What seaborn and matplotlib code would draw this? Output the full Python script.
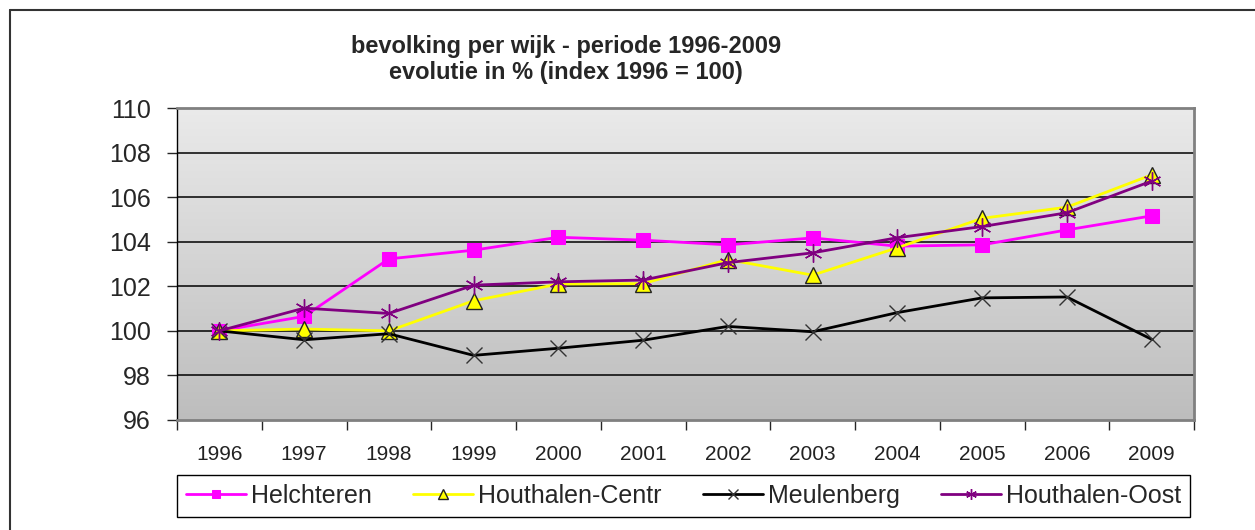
import numpy as np
import pandas as pd
import matplotlib
matplotlib.use("Agg")
import matplotlib.pyplot as plt
from matplotlib.lines import Line2D
import seaborn as sns

sns.set_style("white")
plt.rcParams['font.family'] = ['Liberation Sans', 'DejaVu Sans']

jaren = ["1996", "1997", "1998", "1999", "2000", "2001", "2002", "2003", "2004", "2005", "2006", "2009"]
helchteren = [100.0, 100.65, 103.23, 103.62, 104.2, 104.07, 103.86, 104.17, 103.8, 103.86, 104.53, 105.16]
houthalen_centr = [100.0, 100.08, 100.0, 101.35, 102.1, 102.12, 103.2, 102.5, 103.73, 105.05, 105.55, 107.0]
meulenberg = [100.0, 99.6, 99.87, 98.9, 99.22, 99.58, 100.2, 99.96, 100.82, 101.48, 101.52, 99.62]
houthalen_oost = [100.0, 101.02, 100.78, 102.05, 102.2, 102.28, 103.06, 103.5, 104.18, 104.68, 105.3, 106.72]

wijken = ["Helchteren", "Houthalen-Centr", "Meulenberg", "Houthalen-Oost"]
reeksen = [helchteren, houthalen_centr, meulenberg, houthalen_oost]

# opmaak per reeks
stijl = {
    "Helchteren": dict(color="#ff00ff", marker="s", markersize=10, markeredgecolor="#ff00ff", markerfacecolor="#ff00ff"),
    "Houthalen-Centr": dict(color="#ffff00", marker="^", markersize=12, markeredgecolor="#222222", markerfacecolor="#ffff00", markeredgewidth=1.0),
    "Meulenberg": dict(color="#000000", marker="x", markersize=11, markeredgecolor="#333333", markeredgewidth=1.0),
    "Houthalen-Oost": dict(color="#800080", marker=(6, 2, 0), markersize=13, markeredgecolor="#800080", markeredgewidth=1.0),
}

df = pd.DataFrame({"jaar": jaren * 4,
                   "pos": list(range(len(jaren))) * 4,
                   "wijk": np.repeat(wijken, len(jaren)),
                   "index": np.concatenate(reeksen)})

fig = plt.figure(figsize=(12.55, 5.30), dpi=100)
ax = fig.add_axes([177/1255, 1 - 420/530, (1194 - 177)/1255, (420 - 108)/530])

# grijze verloop-achtergrond
grad = np.linspace(0, 1, 256).reshape(-1, 1)
ax.imshow(grad, extent=[0, 1, 0, 1], transform=ax.transAxes, aspect="auto",
          cmap=matplotlib.colors.LinearSegmentedColormap.from_list("g", ["#eaeaea", "#bdbdbd"]), zorder=0)

for w in wijken:
    d = df[df["wijk"] == w]
    sns.lineplot(data=d, x="pos", y="index", ax=ax, label=w, linewidth=2, zorder=3, **stijl[w])

ax.set_xlim(-0.5, len(jaren) - 0.5)
ax.set_ylim(96, 110)
ax.set_yticks(range(96, 111, 2))
ax.tick_params(axis="y", labelsize=18, length=7, width=1, direction="out", pad=12, left=True)
ax.set_xticks(np.arange(-0.5, len(jaren), 1.0))
ax.set_xticklabels([])
ax.set_xticks(range(len(jaren)), minor=True)
ax.set_xticklabels(jaren, minor=True, fontsize=15, color="#222222")
ax.tick_params(axis="x", which="major", length=7, width=1, direction="out", bottom=True)
ax.tick_params(axis="x", which="minor", length=0, pad=18)
ax.set_xlabel("")
ax.set_ylabel("")

for y in range(98, 110, 2):
    ax.axhline(y, color="black", linewidth=1.1, zorder=1)

for s in ["top", "right", "bottom"]:
    ax.spines[s].set_color("#808080")
    ax.spines[s].set_linewidth(2)
ax.spines["left"].set_color("black")
ax.spines["left"].set_linewidth(1)

ax.legend_.remove()
handles, labels = ax.get_legend_handles_labels()
leg = fig.legend(handles, labels, loc="center", ncol=4, mode="expand",
                 bbox_to_anchor=(177/1255, 1 - 520/530, (1190 - 177)/1255, 48/530),
                 fontsize=18, frameon=True, fancybox=False, edgecolor="black",
                 framealpha=1, handlelength=2.4, handletextpad=0.2, columnspacing=1.0,
                 borderpad=0.35, borderaxespad=0, markerscale=0.6)
leg.get_frame().set_linewidth(1)

fig.text(566/1255, 1 - 47/530, "bevolking per wijk - periode 1996-2009", ha="center", va="center",
         fontsize=17, fontweight="bold")
fig.text(566/1255, 1 - 73/530, "evolutie in % (index 1996 = 100)", ha="center", va="center",
         fontsize=17, fontweight="bold")

# kader rond de grafiek
fig.add_artist(Line2D([10/1255, 1], [1 - 10/530, 1 - 10/530], color="#333333", linewidth=1.5))
fig.add_artist(Line2D([10/1255, 10/1255], [0, 1 - 10/530], color="#333333", linewidth=1.5))

fig.savefig("out.png", dpi=100)
